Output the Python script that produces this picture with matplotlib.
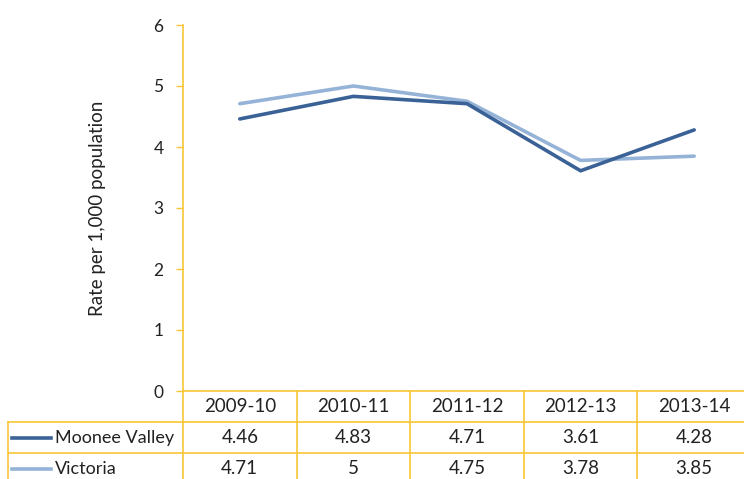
import numpy as np
import matplotlib.pyplot as plt
import matplotlib.transforms as mtransforms

plt.rcParams["font.family"] = ["Lato", "DejaVu Sans"]

# data
years = ["2009-10", "2010-11", "2011-12", "2012-13", "2013-14"]
moonee = [4.46, 4.83, 4.71, 3.61, 4.28]
victoria = [4.71, 5, 4.75, 3.78, 3.85]
series_names = ["Moonee Valley", "Victoria"]

dark = "#3B6296"
light = "#95B3D7"
gold = "#F8C637"
txt = "#222222"

W, H = 744, 479
fig = plt.figure(figsize=(W / 100, H / 100), dpi=100)
# plot area in pixels: x 183..751, y 25..391
ax = fig.add_axes([183 / W, (H - 391) / H, 568 / W, 366 / H])

x = np.arange(len(years))
ax.plot(x, victoria, color=light, lw=2.6, solid_capstyle="round", zorder=3)
ax.plot(x, moonee, color=dark, lw=2.6, solid_capstyle="round", zorder=4)

ax.set_xlim(-0.5, len(years) - 0.5)
ax.set_ylim(0, 6)
ax.set_yticks(range(0, 7))
ax.tick_params(axis="y", direction="out", length=5, width=1, color=gold,
               labelsize=12.5, labelcolor=txt, pad=9)
ax.set_xticks([])
for s in ["top", "right"]:
    ax.spines[s].set_visible(False)
for s in ["left", "bottom"]:
    ax.spines[s].set_color(gold)
    ax.spines[s].set_linewidth(1.2)

ax.set_ylabel("Rate per 1,000 population", fontsize=13.5, color=txt)
ax.yaxis.set_label_coords(-77 / 568, 0.5)

# data table under the chart
trans = mtransforms.blended_transform_factory(ax.transData, ax.transAxes)
rh = 31 / 366
left = -175 / 568
n = len(years)
fs = 13.5

# grid lines of the table
for i in range(n + 1):
    ax.plot([i - 0.5, i - 0.5], [0, -3 * rh], color=gold, lw=1.2,
            transform=trans, clip_on=False)
ax.plot([left, left], [-rh, -3 * rh], color=gold, lw=1.2,
        transform=ax.transAxes, clip_on=False)
for k in range(1, 4):
    ax.plot([left, 1], [-k * rh, -k * rh], color=gold, lw=1.2,
            transform=ax.transAxes, clip_on=False)

for i, yr in enumerate(years):
    ax.text(i, -0.5 * rh, yr, ha="center", va="center", fontsize=fs,
            color=txt, transform=trans)

for r, (name, vals, col) in enumerate(zip(series_names, [moonee, victoria], [dark, light])):
    yc = -(r + 1.5) * rh
    ax.plot([-171 / 568, -132 / 568], [yc, yc], color=col, lw=2.6,
            transform=ax.transAxes, clip_on=False)
    ax.text(-128 / 568, yc, name, ha="left", va="center", fontsize=13,
            color=txt, transform=ax.transAxes)
    for i, v in enumerate(vals):
        ax.text(i, yc, f"{v:g}", ha="center", va="center", fontsize=fs,
                color=txt, transform=trans)

fig.savefig("out.png", dpi=100)
